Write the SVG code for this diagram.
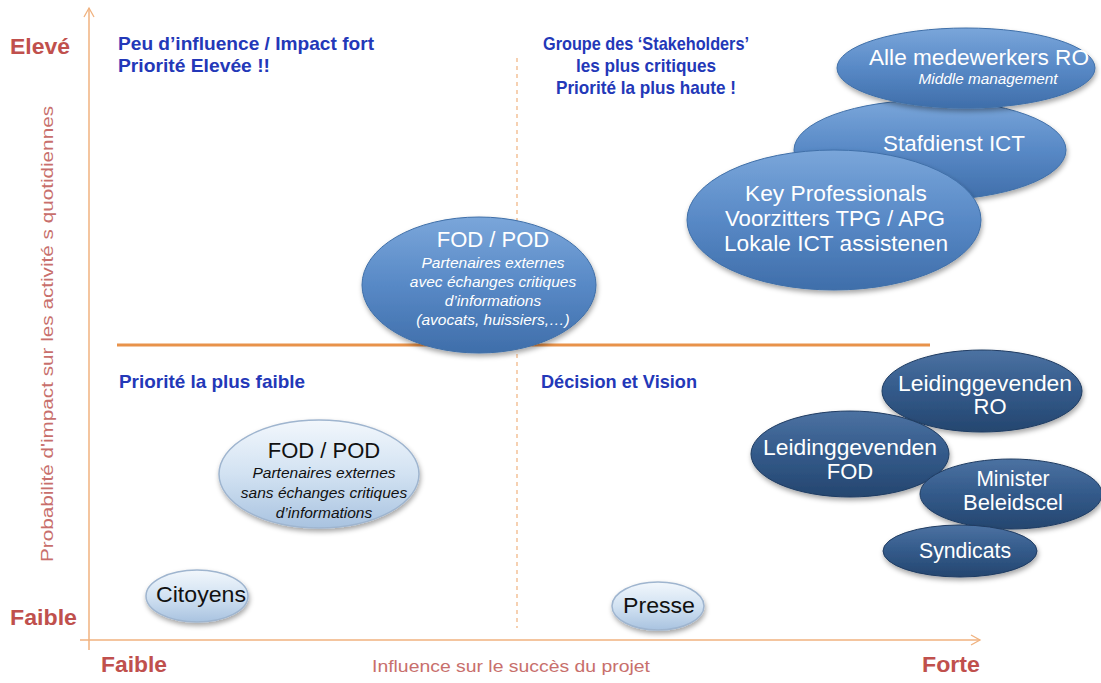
<svg xmlns="http://www.w3.org/2000/svg" width="1101" height="683" viewBox="0 0 1101 683">
<style>
text{font-family:"Liberation Sans",Arial,sans-serif}
.q{fill:#2338B8;font-weight:bold;font-size:18.5px}
.lv{fill:#C0504D;font-weight:bold;font-size:22px}
.ax{fill:#C86F6C;font-size:16.5px}
.wt{fill:#fff;font-size:22px;text-anchor:middle}
.wi{fill:#fff;font-size:15.5px;font-style:italic;text-anchor:middle}
.bt{fill:#111;font-size:22px;text-anchor:middle}
.bi{fill:#111;font-size:15.5px;font-style:italic;text-anchor:middle}
.mid{fill:url(#gm);stroke:#3F6FA8;stroke-width:1;filter:url(#sh)}
.dark{fill:url(#gd);stroke:#1F3C62;stroke-width:1;filter:url(#sh)}
.light{fill:url(#gl);stroke:#9FB5CF;stroke-width:1.5;filter:url(#sh)}
</style>
<defs>
<linearGradient id="gm" x1="0" y1="0" x2="0" y2="1"><stop offset="0" stop-color="#7AA6DA"/><stop offset="0.5" stop-color="#5889C6"/><stop offset="1" stop-color="#3F6EAA"/></linearGradient>
<linearGradient id="gd" x1="0" y1="0" x2="0" y2="1"><stop offset="0" stop-color="#4C72A2"/><stop offset="0.5" stop-color="#335A8A"/><stop offset="1" stop-color="#25466F"/></linearGradient>
<linearGradient id="gl" x1="0" y1="0" x2="0" y2="1"><stop offset="0" stop-color="#F2F7FC"/><stop offset="0.5" stop-color="#D2E2F2"/><stop offset="1" stop-color="#A9C3E0"/></linearGradient>
<filter id="sh" x="-10%" y="-10%" width="125%" height="135%"><feDropShadow dx="1" dy="3" stdDeviation="2.5" flood-color="#000" flood-opacity="0.35"/></filter>
<marker id="ar" markerWidth="12" markerHeight="12" refX="10" refY="6" orient="auto" markerUnits="userSpaceOnUse"><path d="M1,1 L10,6 L1,11" fill="none" stroke="#F0B27F" stroke-width="1.3"/></marker>
</defs>

<g id="connectors">
<line x1="89" y1="650" x2="89" y2="8" stroke="#F0B27F" stroke-width="1.5" marker-end="url(#ar)"/>
<line x1="80" y1="640" x2="980" y2="640" stroke="#F0B27F" stroke-width="1.5" marker-end="url(#ar)"/>
<line x1="517" y1="58" x2="517" y2="628" stroke="#F0B27F" stroke-width="1.2" stroke-dasharray="4,4"/>
<line x1="117" y1="345" x2="930" y2="345" stroke="#E8924A" stroke-width="3"/>
</g>

<g id="labels">
<text class="lv" x="10" y="54" textLength="60" lengthAdjust="spacingAndGlyphs">Elevé</text>
<text class="lv" x="10" y="625" textLength="67" lengthAdjust="spacingAndGlyphs">Faible</text>
<text class="lv" x="101" y="672" textLength="66" lengthAdjust="spacingAndGlyphs">Faible</text>
<text class="lv" x="922" y="672" textLength="58" lengthAdjust="spacingAndGlyphs">Forte</text>
<text class="ax" x="372" y="672" textLength="278" lengthAdjust="spacingAndGlyphs">Influence sur le succès du projet</text>
<text class="ax" transform="translate(53,562) rotate(-90)" textLength="456" lengthAdjust="spacingAndGlyphs">Probabilité d'impact sur les activité s quotidiennes</text>
<text class="q" x="118" y="50" textLength="256" lengthAdjust="spacingAndGlyphs">Peu d’influence / Impact fort</text>
<text class="q" x="118" y="72" textLength="152" lengthAdjust="spacingAndGlyphs">Priorité Elevée !!</text>
<text class="q" x="646" y="50" text-anchor="middle" textLength="206" lengthAdjust="spacingAndGlyphs">Groupe des ‘Stakeholders’</text>
<text class="q" x="646" y="72" text-anchor="middle" textLength="140" lengthAdjust="spacingAndGlyphs">les plus critiques</text>
<text class="q" x="646" y="94" text-anchor="middle" textLength="180" lengthAdjust="spacingAndGlyphs">Priorité la plus haute !</text>
<text class="q" x="119" y="388" textLength="186" lengthAdjust="spacingAndGlyphs">Priorité la plus faible</text>
<text class="q" x="541" y="388" textLength="156" lengthAdjust="spacingAndGlyphs">Décision et Vision</text>
</g>

<g id="stafdienst">
<ellipse class="mid" cx="930" cy="150" rx="136" ry="50"/>
<text class="wt" x="954" y="151" textLength="142" lengthAdjust="spacingAndGlyphs">Stafdienst ICT</text>
</g>
<g id="alle">
<ellipse class="mid" cx="966" cy="68" rx="129" ry="40"/>
<text class="wt" x="979" y="65" textLength="220" lengthAdjust="spacingAndGlyphs">Alle medewerkers RO</text>
<text class="wi" x="988" y="84" font-size="13" textLength="139" lengthAdjust="spacingAndGlyphs">Middle management</text>
</g>
<g id="keyprof">
<ellipse class="mid" cx="834" cy="220" rx="147" ry="70"/>
<text class="wt" x="836" y="201" textLength="182" lengthAdjust="spacingAndGlyphs">Key Professionals</text>
<text class="wt" x="835" y="226" textLength="220" lengthAdjust="spacingAndGlyphs">Voorzitters TPG / APG</text>
<text class="wt" x="836" y="251" textLength="224" lengthAdjust="spacingAndGlyphs">Lokale ICT assistenen</text>
</g>
<g id="fodpod-critique">
<ellipse class="mid" cx="479" cy="285" rx="117" ry="68"/>
<text class="wt" x="493" y="247">FOD / POD</text>
<text class="wi" x="493" y="268">Partenaires externes</text>
<text class="wi" x="493" y="287">avec échanges critiques</text>
<text class="wi" x="493" y="306">d’informations</text>
<text class="wi" x="493" y="325">(avocats, huissiers,…)</text>
</g>
<g id="fodpod-noncritique">
<ellipse class="light" cx="319" cy="474" rx="100" ry="54"/>
<text class="bt" x="324" y="458">FOD / POD</text>
<text class="bi" x="324" y="478">Partenaires externes</text>
<text class="bi" x="324" y="498">sans échanges critiques</text>
<text class="bi" x="324" y="518">d’informations</text>
</g>
<g id="citoyens">
<ellipse class="light" cx="197" cy="596" rx="51" ry="26"/>
<text class="bt" x="201" y="602" font-size="20" textLength="90" lengthAdjust="spacingAndGlyphs">Citoyens</text>
</g>
<g id="presse">
<ellipse class="light" cx="658" cy="606" rx="46" ry="24"/>
<text class="bt" x="659" y="613" font-size="20" textLength="72" lengthAdjust="spacingAndGlyphs">Presse</text>
</g>
<g id="leid-ro">
<ellipse class="dark" cx="982" cy="391" rx="100" ry="41"/>
<text class="wt" x="985" y="391" textLength="174" lengthAdjust="spacingAndGlyphs">Leidinggevenden</text>
<text class="wt" x="990" y="414">RO</text>
</g>
<g id="leid-fod">
<ellipse class="dark" cx="850" cy="454" rx="99" ry="43"/>
<text class="wt" x="850" y="455" textLength="174" lengthAdjust="spacingAndGlyphs">Leidinggevenden</text>
<text class="wt" x="850" y="479">FOD</text>
</g>
<g id="minister">
<ellipse class="dark" cx="1011" cy="494" rx="91" ry="35"/>
<text class="wt" x="1013" y="486" textLength="73" lengthAdjust="spacingAndGlyphs">Minister</text>
<text class="wt" x="1013" y="510" textLength="100" lengthAdjust="spacingAndGlyphs">Beleidscel</text>
</g>
<g id="syndicats">
<ellipse class="dark" cx="960" cy="551" rx="77" ry="26"/>
<text class="wt" x="965" y="558" textLength="92" lengthAdjust="spacingAndGlyphs">Syndicats</text>
</g>
</svg>
